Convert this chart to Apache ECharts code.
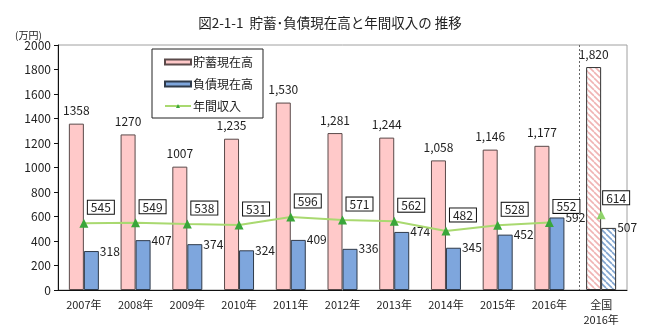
<!DOCTYPE html>
<html>
<head>
<meta charset="utf-8">
<script src="https://cdn.jsdelivr.net/npm/echarts@6/dist/echarts.min.js"></script>
<style>
  html, body { margin: 0; padding: 0; background: #fff; }
  #chart { width: 660px; height: 328px; }
</style>
</head>
<body>
<div id="chart"></div>
<script>
// Categories: ten yearly values plus the 2016 national reference
const categories = ['2007年', '2008年', '2009年', '2010年', '2011年', '2012年', '2013年', '2014年', '2015年', '2016年', '全国\n2016年'];
// 貯蓄現在高 (万円)
const savings = [1358, 1270, 1007, 1235, 1530, 1281, 1244, 1058, 1146, 1177, 1820];
const savingsLabels = ['1358', '1270', '1007', '1,235', '1,530', '1,281', '1,244', '1,058', '1,146', '1,177', '1,820'];
// 負債現在高 (万円)
const debts = [318, 407, 374, 324, 409, 336, 474, 345, 452, 592, 507];
// 年間収入 (万円), yearly series and the national value
const income = [545, 549, 538, 531, 596, 571, 562, 482, 528, 552, '-'];
const incomeNational = ['-', '-', '-', '-', '-', '-', '-', '-', '-', '-', 614];
const yTicks = { min: 0, max: 2000, interval: 200 };

const FONT = "'Noto Sans CJK JP', sans-serif";
const NAT = categories.length - 1;

// Diagonal hatch fill (stripes running from upper left to lower right)
function hatch(stripe) {
  const s = 6;
  const c = document.createElement('canvas');
  c.width = s; c.height = s;
  const g = c.getContext('2d');
  g.fillStyle = '#fff';
  g.fillRect(0, 0, s, s);
  g.strokeStyle = stripe;
  g.lineWidth = 1.6;
  for (let k = -1; k <= 1; k++) {
    g.beginPath();
    g.moveTo(k * s, 0);
    g.lineTo(k * s + s, s);
    g.stroke();
  }
  return { image: c, repeat: 'repeat' };
}

const chart = echarts.init(document.getElementById('chart'), null, { renderer: 'canvas' });

const option = {
  backgroundColor: '#fff',
  animation: false,
  textStyle: { fontFamily: FONT },
  title: [
    {
      text: '図2-1-1  貯蓄･負債現在高と年間収入の 推移',
      left: 'center', top: 11,
      textStyle: { fontFamily: FONT, fontSize: 13.5, fontWeight: 'normal', color: '#222' }
    },
    {
      text: '(万円)', left: 10, top: 25,
      textStyle: { fontFamily: FONT, fontSize: 10, fontWeight: 'normal', color: '#222' }
    }
  ],
  legend: {
    orient: 'vertical',
    left: 152, top: 49,
    padding: [7, 10, 6, 12],
    itemGap: 10,
    itemWidth: 26, itemHeight: 5,
    borderColor: '#222', borderWidth: 1,
    backgroundColor: '#fff',
    data: [
      { name: '貯蓄現在高', icon: 'rect' },
      { name: '負債現在高', icon: 'rect' },
      { name: '年間収入' }
    ],
    textStyle: { fontFamily: FONT, fontSize: 12, color: '#222', padding: [0, 0, 0, -3] }
  },
  grid: {
    left: 58, right: 33, top: 45, bottom: 38,
    show: true, borderColor: '#a0a0a0', borderWidth: 1, backgroundColor: 'transparent'
  },
  xAxis: {
    type: 'category',
    data: categories,
    axisLine: { lineStyle: { color: '#111' } },
    axisTick: { inside: true, length: 4, lineStyle: { color: '#111' } },
    axisLabel: { color: '#222', fontSize: 11, margin: 7, lineHeight: 15, interval: 0 }
  },
  yAxis: {
    type: 'value',
    min: yTicks.min, max: yTicks.max, interval: yTicks.interval,
    axisLine: { show: true, lineStyle: { color: '#111' } },
    axisTick: { show: true, length: 4, lineStyle: { color: '#111' } },
    splitLine: { show: false },
    axisLabel: { color: '#222', fontSize: 12, margin: 7, formatter: v => String(v) }
  },
  series: [
    {
      name: '貯蓄現在高',
      type: 'bar',
      barWidth: 15,
      barGap: '0%',
      itemStyle: { color: '#ffc9c9', borderColor: '#5a4a4a', borderWidth: 1 },
      label: {
        show: true, position: 'top', distance: 7,
        color: '#222', fontSize: 12,
        formatter: p => savingsLabels[p.dataIndex]
      },
      data: savings.map((v, i) => i === NAT
        ? { value: v, itemStyle: { color: hatch('#f0b4b4'), borderColor: '#333' } }
        : v)
    },
    {
      name: '負債現在高',
      type: 'bar',
      barWidth: 15,
      barGap: '0%',
      itemStyle: { color: '#7ea6dd', borderColor: '#2f3a4a', borderWidth: 1 },
      label: {
        show: true, position: ['100%', 0], align: 'left', verticalAlign: 'middle',
        offset: [1, 0], color: '#222', fontSize: 12
      },
      data: debts.map((v, i) => i === NAT
        ? { value: v, itemStyle: { color: hatch('#7fa3cf'), borderColor: '#333' } }
        : v)
    },
    {
      name: '年間収入',
      type: 'line',
      z: 5,
      symbol: 'triangle', symbolSize: 9,
      lineStyle: { color: '#a9d970', width: 2 },
      itemStyle: { color: '#3aa63a' },
      label: {
        show: true, position: 'top', distance: 5, offset: [17, 0],
        color: '#222', fontSize: 12,
        backgroundColor: '#fff', borderColor: '#111', borderWidth: 1, padding: [1, 3, 0, 3]
      },
      data: income
    },
    {
      name: '年間収入(全国)',
      type: 'line',
      z: 5,
      symbol: 'triangle', symbolSize: 9,
      itemStyle: { color: '#8fd36a' },
      lineStyle: { width: 0 },
      label: {
        show: true, position: 'top', distance: 6, offset: [15, 0],
        color: '#222', fontSize: 12,
        backgroundColor: '#fff', borderColor: '#111', borderWidth: 1, padding: [1, 3, 0, 3]
      },
      data: incomeNational
    }
  ]
};

chart.setOption(option);

// Dashed separator between the yearly columns and the national column
const x9 = chart.convertToPixel({ xAxisIndex: 0 }, NAT - 1);
const x10 = chart.convertToPixel({ xAxisIndex: 0 }, NAT);
const yTop = chart.convertToPixel({ yAxisIndex: 0 }, yTicks.max);
const yBot = chart.convertToPixel({ yAxisIndex: 0 }, yTicks.min);
const sepX = Math.round(x9 + (x10 - x9) * 0.58) + 0.5;
chart.setOption({
  graphic: [{
    type: 'line', z: 10,
    shape: { x1: sepX, y1: yTop, x2: sepX, y2: yBot },
    style: { stroke: '#666', lineWidth: 1, lineDash: [2, 2] }
  }]
});
</script>
</body>
</html>
